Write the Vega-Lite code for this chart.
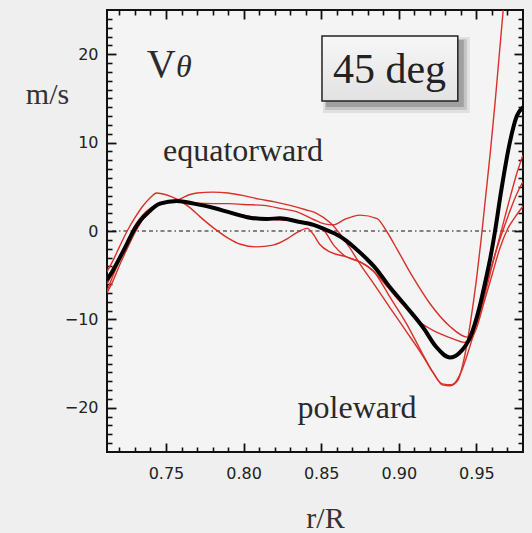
{
  "$schema": "https://vega.github.io/schema/vega-lite/v6.json",
  "width": 416,
  "height": 442,
  "autosize": {"type": "none"},
  "padding": {"left": 107, "top": 10, "right": 9, "bottom": 81},
  "background": "#efefef",
  "config": {
    "view": {"stroke": "#111", "strokeWidth": 2, "fill": "#f4f4f4"}
  },
  "data": {"values": [
    {"series": "mean", "r": 0.712, "v": -5.5},
    {"series": "mean", "r": 0.716, "v": -4.4},
    {"series": "mean", "r": 0.7206, "v": -2.9},
    {"series": "mean", "r": 0.725, "v": -1.4},
    {"series": "mean", "r": 0.729, "v": 0.0},
    {"series": "mean", "r": 0.734, "v": 1.3},
    {"series": "mean", "r": 0.738, "v": 2.0},
    {"series": "mean", "r": 0.746, "v": 3.1},
    {"series": "mean", "r": 0.757, "v": 3.4},
    {"series": "mean", "r": 0.768, "v": 3.1},
    {"series": "mean", "r": 0.781, "v": 2.6},
    {"series": "mean", "r": 0.791, "v": 2.1},
    {"series": "mean", "r": 0.804, "v": 1.5},
    {"series": "mean", "r": 0.815, "v": 1.35},
    {"series": "mean", "r": 0.8235, "v": 1.45},
    {"series": "mean", "r": 0.834, "v": 1.1},
    {"series": "mean", "r": 0.845, "v": 0.7},
    {"series": "mean", "r": 0.8535, "v": 0.1},
    {"series": "mean", "r": 0.862, "v": -0.6},
    {"series": "mean", "r": 0.871, "v": -1.8},
    {"series": "mean", "r": 0.879, "v": -3.1},
    {"series": "mean", "r": 0.884, "v": -4.0},
    {"series": "mean", "r": 0.894, "v": -6.3},
    {"series": "mean", "r": 0.905, "v": -8.6},
    {"series": "mean", "r": 0.916, "v": -11.0},
    {"series": "mean", "r": 0.924, "v": -13.1},
    {"series": "mean", "r": 0.933, "v": -14.3},
    {"series": "mean", "r": 0.939, "v": -13.8},
    {"series": "mean", "r": 0.946, "v": -12.0},
    {"series": "mean", "r": 0.952, "v": -8.6},
    {"series": "mean", "r": 0.956, "v": -5.5},
    {"series": "mean", "r": 0.959, "v": -3.0},
    {"series": "mean", "r": 0.962, "v": 0.0},
    {"series": "mean", "r": 0.966, "v": 4.6},
    {"series": "mean", "r": 0.9715, "v": 10.0},
    {"series": "mean", "r": 0.976, "v": 13.0},
    {"series": "mean", "r": 0.98, "v": 14.0},

    {"series": "R1", "r": 0.712, "v": -7.0},
    {"series": "R1", "r": 0.716, "v": -5.6},
    {"series": "R1", "r": 0.72, "v": -3.9},
    {"series": "R1", "r": 0.725, "v": -2.0},
    {"series": "R1", "r": 0.73, "v": -0.2},
    {"series": "R1", "r": 0.735, "v": 1.3},
    {"series": "R1", "r": 0.74, "v": 2.3},
    {"series": "R1", "r": 0.745, "v": 2.9},
    {"series": "R1", "r": 0.75, "v": 3.2},
    {"series": "R1", "r": 0.755, "v": 3.4},
    {"series": "R1", "r": 0.76, "v": 3.7},
    {"series": "R1", "r": 0.765, "v": 4.1},
    {"series": "R1", "r": 0.77, "v": 4.3},
    {"series": "R1", "r": 0.78, "v": 4.4},
    {"series": "R1", "r": 0.79, "v": 4.3},
    {"series": "R1", "r": 0.8, "v": 4.0},
    {"series": "R1", "r": 0.81, "v": 3.6},
    {"series": "R1", "r": 0.82, "v": 3.3},
    {"series": "R1", "r": 0.83, "v": 2.9},
    {"series": "R1", "r": 0.84, "v": 2.4},
    {"series": "R1", "r": 0.847, "v": 2.0},
    {"series": "R1", "r": 0.856, "v": 0.9},
    {"series": "R1", "r": 0.862, "v": -0.3},
    {"series": "R1", "r": 0.868, "v": -1.8},
    {"series": "R1", "r": 0.876, "v": -4.0},
    {"series": "R1", "r": 0.884, "v": -6.0},
    {"series": "R1", "r": 0.894, "v": -8.6},
    {"series": "R1", "r": 0.905, "v": -11.4},
    {"series": "R1", "r": 0.915, "v": -14.0},
    {"series": "R1", "r": 0.922, "v": -16.0},
    {"series": "R1", "r": 0.928, "v": -17.4},
    {"series": "R1", "r": 0.933, "v": -17.5},
    {"series": "R1", "r": 0.938, "v": -16.9},
    {"series": "R1", "r": 0.942, "v": -14.5},
    {"series": "R1", "r": 0.946, "v": -10.5},
    {"series": "R1", "r": 0.95, "v": -5.5},
    {"series": "R1", "r": 0.953, "v": -1.0},
    {"series": "R1", "r": 0.956, "v": 4.0},
    {"series": "R1", "r": 0.959, "v": 9.0},
    {"series": "R1", "r": 0.962, "v": 14.5},
    {"series": "R1", "r": 0.965, "v": 20.5},
    {"series": "R1", "r": 0.968, "v": 26.5},

    {"series": "R2", "r": 0.712, "v": -4.6},
    {"series": "R2", "r": 0.716, "v": -3.3},
    {"series": "R2", "r": 0.72, "v": -1.8},
    {"series": "R2", "r": 0.725, "v": 0.0},
    {"series": "R2", "r": 0.73, "v": 1.5},
    {"series": "R2", "r": 0.735, "v": 2.8},
    {"series": "R2", "r": 0.74, "v": 3.8},
    {"series": "R2", "r": 0.744, "v": 4.3},
    {"series": "R2", "r": 0.75, "v": 4.1},
    {"series": "R2", "r": 0.757, "v": 3.6},
    {"series": "R2", "r": 0.765, "v": 2.7},
    {"series": "R2", "r": 0.772, "v": 1.6},
    {"series": "R2", "r": 0.781, "v": 0.3},
    {"series": "R2", "r": 0.79, "v": -0.8},
    {"series": "R2", "r": 0.798, "v": -1.5},
    {"series": "R2", "r": 0.808, "v": -1.8},
    {"series": "R2", "r": 0.819, "v": -1.6},
    {"series": "R2", "r": 0.828, "v": -0.9},
    {"series": "R2", "r": 0.834, "v": -0.2},
    {"series": "R2", "r": 0.841, "v": 0.3},
    {"series": "R2", "r": 0.845, "v": -0.4},
    {"series": "R2", "r": 0.849, "v": -1.5},
    {"series": "R2", "r": 0.856, "v": -2.4},
    {"series": "R2", "r": 0.866, "v": -2.9},
    {"series": "R2", "r": 0.875, "v": -3.5},
    {"series": "R2", "r": 0.884, "v": -4.6},
    {"series": "R2", "r": 0.894, "v": -6.6},
    {"series": "R2", "r": 0.905, "v": -8.8},
    {"series": "R2", "r": 0.915, "v": -10.5},
    {"series": "R2", "r": 0.925, "v": -11.5},
    {"series": "R2", "r": 0.935, "v": -12.2},
    {"series": "R2", "r": 0.942, "v": -12.6},
    {"series": "R2", "r": 0.946, "v": -12.4},
    {"series": "R2", "r": 0.95, "v": -11.0},
    {"series": "R2", "r": 0.955, "v": -8.0},
    {"series": "R2", "r": 0.96, "v": -5.0},
    {"series": "R2", "r": 0.965, "v": -2.0},
    {"series": "R2", "r": 0.97, "v": 0.2},
    {"series": "R2", "r": 0.975, "v": 1.6},
    {"series": "R2", "r": 0.98, "v": 2.8},

    {"series": "R3", "r": 0.712, "v": -6.0},
    {"series": "R3", "r": 0.716, "v": -4.6},
    {"series": "R3", "r": 0.72, "v": -3.0},
    {"series": "R3", "r": 0.725, "v": -1.2},
    {"series": "R3", "r": 0.73, "v": 0.6},
    {"series": "R3", "r": 0.735, "v": 1.8},
    {"series": "R3", "r": 0.74, "v": 2.6},
    {"series": "R3", "r": 0.745, "v": 3.0},
    {"series": "R3", "r": 0.75, "v": 3.2},
    {"series": "R3", "r": 0.755, "v": 3.3},
    {"series": "R3", "r": 0.765, "v": 3.2},
    {"series": "R3", "r": 0.78, "v": 3.1},
    {"series": "R3", "r": 0.791, "v": 3.1},
    {"series": "R3", "r": 0.8, "v": 3.0},
    {"series": "R3", "r": 0.813, "v": 2.9},
    {"series": "R3", "r": 0.825, "v": 2.5},
    {"series": "R3", "r": 0.834, "v": 2.2},
    {"series": "R3", "r": 0.845, "v": 1.3},
    {"series": "R3", "r": 0.852, "v": 0.8},
    {"series": "R3", "r": 0.858, "v": 0.7},
    {"series": "R3", "r": 0.865, "v": 1.3},
    {"series": "R3", "r": 0.875, "v": 1.8},
    {"series": "R3", "r": 0.886, "v": 1.4},
    {"series": "R3", "r": 0.892, "v": 0.0},
    {"series": "R3", "r": 0.899, "v": -2.1},
    {"series": "R3", "r": 0.909, "v": -5.2},
    {"series": "R3", "r": 0.92, "v": -8.2},
    {"series": "R3", "r": 0.933, "v": -10.8},
    {"series": "R3", "r": 0.944, "v": -12.0},
    {"series": "R3", "r": 0.95, "v": -10.5},
    {"series": "R3", "r": 0.955, "v": -7.5},
    {"series": "R3", "r": 0.96, "v": -4.0},
    {"series": "R3", "r": 0.966, "v": 0.0},
    {"series": "R3", "r": 0.972, "v": 4.0},
    {"series": "R3", "r": 0.976, "v": 6.5},
    {"series": "R3", "r": 0.98, "v": 8.6},

    {"series": "R4", "r": 0.712, "v": -6.8},
    {"series": "R4", "r": 0.716, "v": -5.0},
    {"series": "R4", "r": 0.72, "v": -3.4},
    {"series": "R4", "r": 0.725, "v": -1.6},
    {"series": "R4", "r": 0.73, "v": 0.2},
    {"series": "R4", "r": 0.735, "v": 1.5},
    {"series": "R4", "r": 0.74, "v": 2.4},
    {"series": "R4", "r": 0.745, "v": 2.9},
    {"series": "R4", "r": 0.75, "v": 3.2},
    {"series": "R4", "r": 0.757, "v": 3.3},
    {"series": "R4", "r": 0.765, "v": 3.1},
    {"series": "R4", "r": 0.78, "v": 2.6},
    {"series": "R4", "r": 0.79, "v": 2.2},
    {"series": "R4", "r": 0.8, "v": 1.8},
    {"series": "R4", "r": 0.81, "v": 1.5},
    {"series": "R4", "r": 0.82, "v": 1.3},
    {"series": "R4", "r": 0.83, "v": 1.2},
    {"series": "R4", "r": 0.84, "v": 1.0},
    {"series": "R4", "r": 0.847, "v": 0.5},
    {"series": "R4", "r": 0.852, "v": 0.0},
    {"series": "R4", "r": 0.858, "v": -1.6},
    {"series": "R4", "r": 0.865, "v": -2.8},
    {"series": "R4", "r": 0.875, "v": -3.5},
    {"series": "R4", "r": 0.884, "v": -4.6},
    {"series": "R4", "r": 0.894, "v": -7.4},
    {"series": "R4", "r": 0.905, "v": -10.5},
    {"series": "R4", "r": 0.915, "v": -13.8},
    {"series": "R4", "r": 0.922, "v": -16.0},
    {"series": "R4", "r": 0.928, "v": -17.3},
    {"series": "R4", "r": 0.934, "v": -17.4},
    {"series": "R4", "r": 0.94, "v": -16.0},
    {"series": "R4", "r": 0.945, "v": -13.5},
    {"series": "R4", "r": 0.95, "v": -10.5},
    {"series": "R4", "r": 0.955, "v": -7.0},
    {"series": "R4", "r": 0.96, "v": -3.8},
    {"series": "R4", "r": 0.965, "v": -1.0},
    {"series": "R4", "r": 0.97, "v": 1.5},
    {"series": "R4", "r": 0.975, "v": 3.8},
    {"series": "R4", "r": 0.98, "v": 5.6}
  ]},
  "resolve": {"axis": {"x": "independent", "y": "independent"}},
  "layer": [
    {
      "data": {"values": [{}]},
      "mark": {"type": "rule", "color": "#111", "strokeWidth": 1.2, "strokeDash": [4, 3, 4, 3, 1.5, 3]},
      "encoding": {
        "y": {"datum": 0, "type": "quantitative", "scale": {"domain": [-25, 25], "nice": false, "zero": false}, "axis": null}
      }
    },
    {
      "transform": [{"filter": "datum.series !== 'mean'"}],
      "mark": {"type": "line", "color": "#d8302a", "strokeWidth": 1.4, "clip": true, "interpolate": "monotone"},
      "encoding": {
        "x": {"field": "r", "type": "quantitative", "scale": {"domain": [0.712, 0.98], "nice": false, "zero": false},
          "axis": {"orient": "bottom", "values": [0.75, 0.8, 0.85, 0.9, 0.95], "format": ".2f", "ticks": false, "domain": false, "grid": false,
            "labelPadding": 13, "labelFont": "DejaVu Sans", "labelFontSize": 16, "labelColor": "#222", "labelFlush": false, "labelOverlap": false,
            "title": "r/R", "titleFont": "Liberation Serif", "titleFontSize": 30, "titleFontWeight": "normal", "titleColor": "#333",
            "titleX": 218, "titleY": 75, "titleAlign": "center", "titleBaseline": "alphabetic"}},
        "y": {"field": "v", "type": "quantitative", "scale": {"domain": [-25, 25], "nice": false, "zero": false},
          "axis": {"orient": "left", "values": [-20, -10, 0, 10, 20], "ticks": false, "domain": false, "grid": false,
            "labelPadding": 9, "labelFont": "DejaVu Sans", "labelFontSize": 16, "labelColor": "#222", "labelFlush": false, "labelOverlap": false,
            "title": "m/s", "titleFont": "Liberation Serif", "titleFontSize": 30, "titleFontWeight": "normal", "titleColor": "#333",
            "titleAngle": 0, "titleX": -60, "titleY": 93, "titleAlign": "center", "titleBaseline": "alphabetic"}},
        "detail": {"field": "series"}
      }
    },
    {
      "transform": [{"filter": "datum.series === 'mean'"}],
      "mark": {"type": "line", "color": "#000", "strokeWidth": 4, "clip": true, "interpolate": "monotone"},
      "encoding": {
        "x": {"field": "r", "type": "quantitative",
          "axis": {"orient": "bottom", "values": [0.75, 0.8, 0.85, 0.9, 0.95], "labels": false, "domain": false, "grid": false, "tickSize": -9, "tickWidth": 1.8, "tickColor": "#111", "title": null}},
        "y": {"field": "v", "type": "quantitative",
          "axis": {"orient": "left", "values": [-20, -10, 0, 10, 20], "labels": false, "domain": false, "grid": false, "tickSize": -9, "tickWidth": 1.8, "tickColor": "#111", "title": null}}
      }
    },
    {
      "mark": {"type": "point", "opacity": 0},
      "encoding": {
        "x": {"field": "r", "type": "quantitative",
          "axis": {"orient": "bottom", "values": [0.72, 0.73, 0.74, 0.76, 0.77, 0.78, 0.79, 0.81, 0.82, 0.83, 0.84, 0.86, 0.87, 0.88, 0.89, 0.91, 0.92, 0.93, 0.94, 0.96, 0.97], "labels": false, "domain": false, "grid": false, "tickSize": -5, "tickWidth": 1.6, "tickColor": "#111", "title": null}},
        "y": {"field": "v", "type": "quantitative",
          "axis": {"orient": "left", "values": [-24, -23, -22, -21, -19, -18, -17, -16, -15, -14, -13, -12, -11, -9, -8, -7, -6, -5, -4, -3, -2, -1, 1, 2, 3, 4, 5, 6, 7, 8, 9, 11, 12, 13, 14, 15, 16, 17, 18, 19, 21, 22, 23, 24], "labels": false, "domain": false, "grid": false, "tickSize": -5, "tickWidth": 1.6, "tickColor": "#111", "title": null}}
      }
    },
    {
      "mark": {"type": "point", "opacity": 0},
      "encoding": {
        "x": {"field": "r", "type": "quantitative",
          "axis": {"orient": "top", "values": [0.75, 0.8, 0.85, 0.9, 0.95], "labels": false, "domain": false, "grid": false, "tickSize": -9, "tickWidth": 1.8, "tickColor": "#111", "title": null}},
        "y": {"field": "v", "type": "quantitative",
          "axis": {"orient": "right", "values": [-20, -10, 0, 10, 20], "labels": false, "domain": false, "grid": false, "tickSize": -9, "tickWidth": 1.8, "tickColor": "#111", "title": null}}
      }
    },
    {
      "mark": {"type": "point", "opacity": 0},
      "encoding": {
        "x": {"field": "r", "type": "quantitative",
          "axis": {"orient": "top", "values": [0.72, 0.73, 0.74, 0.76, 0.77, 0.78, 0.79, 0.81, 0.82, 0.83, 0.84, 0.86, 0.87, 0.88, 0.89, 0.91, 0.92, 0.93, 0.94, 0.96, 0.97], "labels": false, "domain": false, "grid": false, "tickSize": -5, "tickWidth": 1.6, "tickColor": "#111", "title": null}},
        "y": {"field": "v", "type": "quantitative",
          "axis": {"orient": "right", "values": [-24, -23, -22, -21, -19, -18, -17, -16, -15, -14, -13, -12, -11, -9, -8, -7, -6, -5, -4, -3, -2, -1, 1, 2, 3, 4, 5, 6, 7, 8, 9, 11, 12, 13, 14, 15, 16, 17, 18, 19, 21, 22, 23, 24], "labels": false, "domain": false, "grid": false, "tickSize": -5, "tickWidth": 1.6, "tickColor": "#111", "title": null}}
      }
    },
    {
      "data": {"values": [{}]},
      "mark": {"type": "rect", "fill": "#000", "opacity": 0.08, "xOffset": 1, "x2Offset": 12, "yOffset": 1, "y2Offset": 12},
      "encoding": {
        "x": {"datum": 0.8505, "type": "quantitative", "axis": null}, "x2": {"datum": 0.938},
        "y": {"datum": 22.06, "type": "quantitative", "axis": null}, "y2": {"datum": 14.7}
      }
    },
    {
      "data": {"values": [{}]},
      "mark": {"type": "rect", "fill": "#000", "opacity": 0.12, "xOffset": 3, "x2Offset": 9, "yOffset": 3, "y2Offset": 9},
      "encoding": {
        "x": {"datum": 0.8505, "type": "quantitative", "axis": null}, "x2": {"datum": 0.938},
        "y": {"datum": 22.06, "type": "quantitative", "axis": null}, "y2": {"datum": 14.7}
      }
    },
    {
      "data": {"values": [{}]},
      "mark": {"type": "rect", "fill": "#000", "opacity": 0.18, "xOffset": 4, "x2Offset": 6, "yOffset": 4, "y2Offset": 6},
      "encoding": {
        "x": {"datum": 0.8505, "type": "quantitative", "axis": null}, "x2": {"datum": 0.938},
        "y": {"datum": 22.06, "type": "quantitative", "axis": null}, "y2": {"datum": 14.7}
      }
    },
    {
      "data": {"values": [{}]},
      "mark": {"type": "rect", "stroke": "#222", "strokeWidth": 1.5,
        "fill": {"gradient": "linear", "x1": 0, "y1": 0, "x2": 0, "y2": 1, "stops": [{"offset": 0, "color": "#f7f7f7"}, {"offset": 1, "color": "#e2e2e2"}]}},
      "encoding": {
        "x": {"datum": 0.8505, "type": "quantitative", "axis": null}, "x2": {"datum": 0.938},
        "y": {"datum": 22.06, "type": "quantitative", "axis": null}, "y2": {"datum": 14.7}
      }
    },
    {
      "data": {"values": [{}]},
      "mark": {"type": "text", "font": "Liberation Serif", "fontSize": 42, "color": "#222", "align": "center", "baseline": "alphabetic"},
      "encoding": {
        "x": {"datum": 0.894, "type": "quantitative", "axis": null},
        "y": {"datum": 16.74, "type": "quantitative", "axis": null},
        "text": {"value": "45 deg"}
      }
    },
    {
      "data": {"values": [{}]},
      "mark": {"type": "text", "font": "Liberation Serif", "fontSize": 40, "color": "#2a2a2a", "align": "left", "baseline": "alphabetic"},
      "encoding": {
        "x": {"datum": 0.7376, "type": "quantitative", "axis": null},
        "y": {"datum": 17.4, "type": "quantitative", "axis": null},
        "text": {"value": "V"}
      }
    },
    {
      "data": {"values": [{}]},
      "mark": {"type": "text", "font": "Liberation Serif", "fontSize": 32, "fontStyle": "italic", "color": "#2a2a2a", "align": "left", "baseline": "alphabetic"},
      "encoding": {
        "x": {"datum": 0.7565, "type": "quantitative", "axis": null},
        "y": {"datum": 17.4, "type": "quantitative", "axis": null},
        "text": {"value": "θ"}
      }
    },
    {
      "data": {"values": [{}]},
      "mark": {"type": "text", "font": "Liberation Serif", "fontSize": 32, "color": "#2a2a2a", "align": "center", "baseline": "alphabetic"},
      "encoding": {
        "x": {"datum": 0.7996, "type": "quantitative", "axis": null},
        "y": {"datum": 7.92, "type": "quantitative", "axis": null},
        "text": {"value": "equatorward"}
      }
    },
    {
      "data": {"values": [{}]},
      "mark": {"type": "text", "font": "Liberation Serif", "fontSize": 32, "color": "#2a2a2a", "align": "center", "baseline": "alphabetic"},
      "encoding": {
        "x": {"datum": 0.8731, "type": "quantitative", "axis": null},
        "y": {"datum": -21.15, "type": "quantitative", "axis": null},
        "text": {"value": "poleward"}
      }
    }
  ]
}
